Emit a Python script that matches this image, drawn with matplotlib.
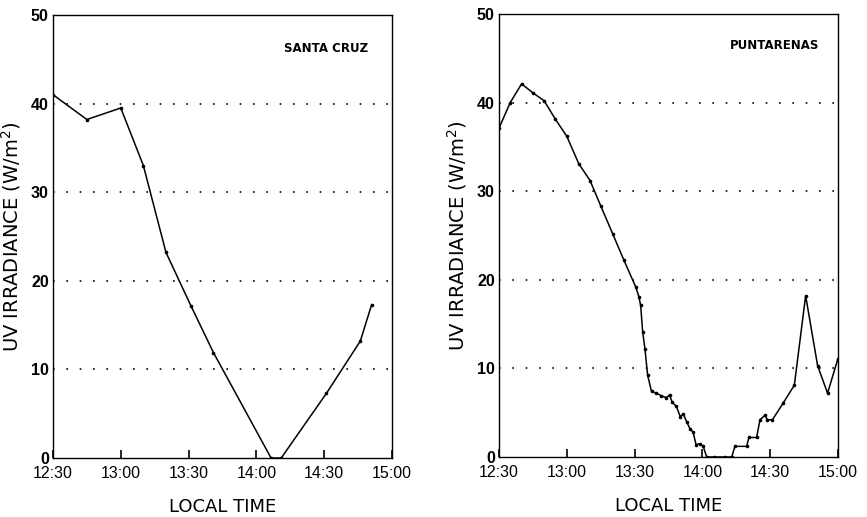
import numpy as np
import matplotlib.pyplot as plt

# ---- data (minutes after 12:30, UV irradiance W/m^2) ----
sc_min = [0, 15, 30, 40, 50, 61, 71, 96.5, 101, 121, 136, 141]
sc_uv = [41, 38.2, 39.5, 33, 23.2, 17.2, 11.9, 0, 0, 7.3, 13.2, 17.3]

pu_min = [0, 5, 10, 15, 20, 25, 30, 35.3, 40.3, 45.1, 50.3, 55.3, 60.5, 61.9, 62.7,
          63.6, 64.6, 65.8, 67.5, 69.7, 71.9, 74.1, 75.5, 76.6, 78.5, 80.3, 81.5,
          83, 84.5, 85.9, 87.2, 88.9, 90.4, 91.9, 95, 100, 103, 104.4, 109.6, 110.6,
          114, 115.5, 117.7, 118.8, 121, 125.8, 130.7, 135.7, 141, 145.4, 150]
pu_uv = [37.1, 40.0, 42.1, 41.1, 40.2, 38.1, 36.2, 33.1, 31.2, 28.3, 25.2, 22.2, 19.2,
         18.1, 17.1, 14.1, 12.2, 9.2, 7.4, 7.2, 6.9, 6.7, 7.0, 6.2, 5.7, 4.5, 4.9,
         4.0, 3.2, 2.8, 1.4, 1.5, 1.2, 0, 0, 0, 0, 1.2, 1.2, 2.2, 2.2, 4.2, 4.7, 4.2,
         4.2, 6.1, 8.1, 18.2, 10.3, 7.2, 11.1]

tick_min = [0, 30, 60, 90, 120, 150]
tick_lbl = ["12:30", "13:00", "13:30", "14:00", "14:30", "15:00"]
y_ticks = [0, 10, 20, 30, 40, 50]
grid_levels = [10, 20, 30, 40]

plt.rcParams['font.family'] = ['Liberation Sans', 'DejaVu Sans']

fig = plt.figure(figsize=(8.67, 5.17), dpi=100)
ax1 = fig.add_axes([0.0611, 0.1141, 0.391, 0.857])
ax2 = fig.add_axes([0.5755, 0.1161, 0.391, 0.857])


def style(ax, x, y, name, name_x, name_y):
    for g in grid_levels:
        ax.axhline(g, color='black', linestyle=(0, (1, 7)), linewidth=1.2)
    ax.plot(x, y, color='black', linewidth=1.1, marker='o', markersize=1.6)
    ax.set_xlim(0, 150)
    ax.set_ylim(0, 50)
    ax.set_xticks(tick_min)
    ax.set_xticklabels(tick_lbl, fontsize=11.5)
    ax.set_yticks(y_ticks)
    ax.set_yticklabels([str(v) for v in y_ticks], fontsize=11.5, fontweight='bold')
    ax.tick_params(axis='x', direction='in', length=6, width=1.2, pad=6, top=False)
    ax.tick_params(axis='y', length=0, pad=3)
    for s in ax.spines.values():
        s.set_linewidth(1.0)
    ax.set_xlabel("LOCAL TIME", fontsize=13, family='DejaVu Sans', labelpad=12)
    ax.set_ylabel("UV IRRADIANCE (W/m$^2$)", fontsize=14, family='DejaVu Sans', labelpad=6)
    ax.text(name_x, name_y, name, transform=ax.transAxes, ha='right', va='center',
            fontsize=8.5, fontweight='bold', family='DejaVu Sans')


style(ax1, sc_min, sc_uv, "SANTA CRUZ", 0.929, 0.925)
style(ax2, pu_min, pu_uv, "PUNTARENAS", 0.944, 0.928)

fig.savefig("out.png", dpi=100)
